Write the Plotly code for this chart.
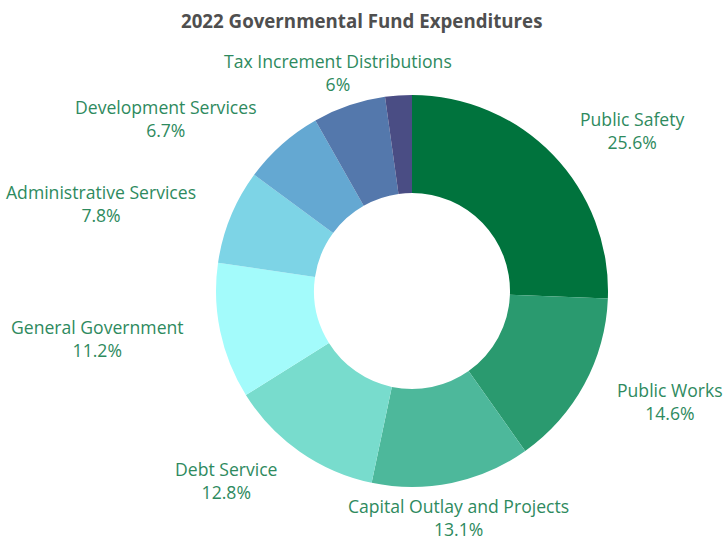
import math
import plotly.graph_objects as go

# 2022 governmental fund expenditures, share of total (%)
categories = [
    "Public Safety",
    "Public Works",
    "Capital Outlay and Projects",
    "Debt Service",
    "General Government",
    "Administrative Services",
    "Development Services",
    "Tax Increment Distributions",
    "Other",
]
shares = [25.6, 14.6, 13.1, 12.8, 11.2, 7.8, 6.7, 6.0, 2.2]
labelled = [True, True, True, True, True, True, True, True, False]
colors = [
    "#00733D", "#2A9A6F", "#4DB89B", "#78DCCD", "#A3FBFB",
    "#7DD4E6", "#64A8D2", "#5478AC", "#4A4D84",
]

W, H = 723, 543
CX, CY, R = 412, 291, 196          # pie centre and outer radius (px)
LABEL_R = R + 35                   # radius at which labels are anchored

fig = go.Figure(
    go.Pie(
        labels=categories,
        values=shares,
        hole=0.5,
        sort=False,
        direction="clockwise",
        rotation=0,
        marker=dict(colors=colors, line=dict(width=0)),
        textinfo="none",
        hoverinfo="label+percent",
        domain=dict(
            x=[(CX - R) / W, (CX + R) / W],
            y=[(H - CY - R) / H, (H - CY + R) / H],
        ),
        showlegend=False,
    )
)

# outside labels placed along each slice's mid angle
total = sum(shares)
cum = 0.0
annotations = []
for name, val, show in zip(categories, shares, labelled):
    mid = (cum + val / 2) / total * 2 * math.pi
    cum += val
    if not show:
        continue
    s, c = math.sin(mid), math.cos(mid)
    px = CX + LABEL_R * s
    py = CY - LABEL_R * c
    if s > 0.35:
        xa = "left"
    elif s < -0.35:
        xa = "right"
    else:
        xa = "center"
    pct = f"{val:g}%"
    annotations.append(
        dict(
            x=px / W, y=(H - py) / H, xref="paper", yref="paper",
            text=f"{name}<br>{pct}", showarrow=False,
            xanchor=xa, yanchor="middle", align="center",
            font=dict(family="Open Sans", size=17.6, color="#2E8A5E"),
        )
    )

annotations.append(
    dict(
        x=0.5, y=(H - 20) / H, xref="paper", yref="paper",
        text="<b>2022 Governmental Fund Expenditures</b>", showarrow=False,
        xanchor="center", yanchor="middle",
        font=dict(family="Open Sans", size=18.7, color="#4F4F4F"),
    )
)

fig.update_layout(
    width=W, height=H,
    margin=dict(l=0, r=0, t=0, b=0),
    paper_bgcolor="white",
    plot_bgcolor="white",
    annotations=annotations,
)

fig.write_html("out.html")
